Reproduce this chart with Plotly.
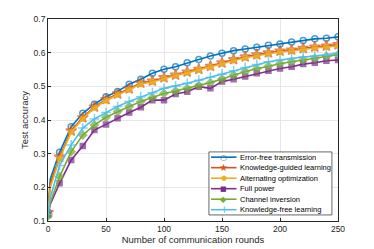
import plotly.graph_objects as go

rounds = [0, 2, 10, 20, 30, 40, 50, 60, 70, 80, 90, 100, 110, 120, 130, 140, 150,
          160, 170, 180, 190, 200, 210, 220, 230, 240, 250]

error_free = [0.127, 0.225, 0.304, 0.380, 0.420, 0.447, 0.469, 0.485, 0.506, 0.521,
              0.539, 0.551, 0.558, 0.570, 0.580, 0.590, 0.598, 0.606, 0.611, 0.616,
              0.622, 0.626, 0.632, 0.636, 0.641, 0.643, 0.647]
knowledge_guided = [0.125, 0.210, 0.290, 0.368, 0.407, 0.439, 0.461, 0.478, 0.493, 0.510,
                    0.516, 0.526, 0.534, 0.543, 0.551, 0.560, 0.570, 0.580, 0.588, 0.594,
                    0.600, 0.605, 0.608, 0.613, 0.617, 0.620, 0.624]
alternating = [0.123, 0.200, 0.285, 0.364, 0.404, 0.436, 0.458, 0.475, 0.490, 0.507,
               0.513, 0.523, 0.532, 0.540, 0.549, 0.557, 0.567, 0.577, 0.585, 0.591,
               0.597, 0.602, 0.605, 0.610, 0.614, 0.617, 0.620]
full_power = [0.118, 0.150, 0.212, 0.281, 0.323, 0.370, 0.387, 0.405, 0.422, 0.438,
              0.459, 0.459, 0.477, 0.484, 0.499, 0.494, 0.514, 0.521, 0.529, 0.539,
              0.546, 0.553, 0.558, 0.566, 0.570, 0.576, 0.578]
channel_inversion = [0.115, 0.155, 0.232, 0.306, 0.355, 0.385, 0.408, 0.425, 0.440, 0.455,
                     0.467, 0.479, 0.486, 0.494, 0.502, 0.511, 0.522, 0.534, 0.544, 0.552,
                     0.560, 0.567, 0.573, 0.578, 0.583, 0.589, 0.594]
knowledge_free = [0.120, 0.170, 0.265, 0.326, 0.376, 0.403, 0.422, 0.440, 0.455, 0.469,
                  0.481, 0.494, 0.501, 0.509, 0.518, 0.527, 0.536, 0.546, 0.556, 0.565,
                  0.573, 0.578, 0.583, 0.587, 0.590, 0.594, 0.598]

x_ticks = [0, 50, 100, 150, 200, 250]
y_ticks = [0.1, 0.2, 0.3, 0.4, 0.5, 0.6, 0.7]

names = ["Error-free transmission", "Knowledge-guided learning", "Alternating optimization",
         "Full power", "Channel inversion", "Knowledge-free learning"]
series = [error_free, knowledge_guided, alternating, full_power, channel_inversion, knowledge_free]
colors = ["#0072BD", "#D95319", "#EDB120", "#7E2F8E", "#77AC30", "#4DBEEE"]
symbols = ["circle-open", "star", "circle", "square", "diamond", "cross-thin-open"]
msizes = [6, 8, 5, 5, 6, 7]
glyphs = ["○", "★", "●", "■", "◆", "+"]
gsizes = [8, 10, 7, 7, 8, 10]

FONT = "Liberation Sans, Arial, sans-serif"

fig = go.Figure()
for name, ys, c, s, ms in zip(names, series, colors, symbols, msizes):
    sizes = [0 if x == 2 else ms for x in rounds]
    fig.add_trace(go.Scatter(
        x=rounds, y=ys, name=name, mode="lines+markers",
        line=dict(color=c, width=1.6),
        marker=dict(symbol=s, size=sizes, color=c,
                    line=dict(color=c, width=1.5)),
        showlegend=False,
    ))

# custom compact legend (MATLAB style)
lx0, lx1, ly0, ly1 = 0.555, 0.979, 0.030, 0.342
fig.add_shape(type="rect", xref="paper", yref="paper", x0=lx0, x1=lx1, y0=ly0, y1=ly1,
              line=dict(color="#262626", width=0.7), fillcolor="white", layer="above")
n = len(names)
step = (ly1 - ly0) / n
for i, (name, c, g, gs) in enumerate(zip(names, colors, glyphs, gsizes)):
    yc = ly1 - step * (i + 0.5)
    fig.add_shape(type="line", xref="paper", yref="paper", x0=0.562, x1=0.650, y0=yc, y1=yc,
                  line=dict(color=c, width=1.6), layer="above")
    fig.add_annotation(xref="paper", yref="paper", x=0.606, y=yc, text=g, showarrow=False,
                       font=dict(family="DejaVu Sans", size=gs, color=c),
                       xanchor="center", yanchor="middle", borderpad=0)
    fig.add_annotation(xref="paper", yref="paper", x=0.658, y=yc, text=name, showarrow=False,
                       font=dict(family=FONT, size=7.5, color="#000000"),
                       xanchor="left", yanchor="middle", borderpad=0)

axis_common = dict(showline=True, linecolor="#262626", linewidth=0.8, mirror=True,
                   showgrid=True, gridcolor="#E6E6E6", gridwidth=0.8,
                   ticks="inside", ticklen=3, tickcolor="#262626", automargin=False,
                   tickfont=dict(family=FONT, size=8.5, color="#262626"),
                   zeroline=False)

fig.update_layout(
    width=374, height=249,
    margin=dict(l=40, r=44, t=11, b=36),
    paper_bgcolor="white", plot_bgcolor="white",
    showlegend=False,
    xaxis=dict(range=[0, 250], tickvals=x_ticks,
               title=dict(text="Number of communication rounds", standoff=1,
                          font=dict(family=FONT, size=9.5, color="#262626")),
               **axis_common),
    yaxis=dict(range=[0.1, 0.7], tickvals=y_ticks, tickformat=".1f",
               title=dict(text="Test accuracy", standoff=3,
                          font=dict(family=FONT, size=9.5, color="#262626")),
               **axis_common),
)

fig.write_html("out.html")
